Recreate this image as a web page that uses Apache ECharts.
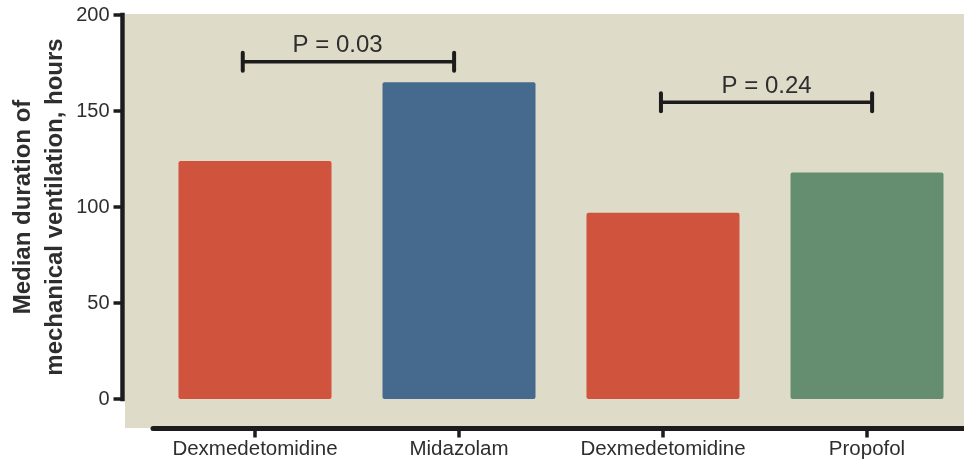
<!DOCTYPE html>
<html>
<head>
<meta charset="utf-8">
<script src="https://cdn.jsdelivr.net/npm/echarts@6/dist/echarts.min.js"></script>
<style>
html,body{margin:0;padding:0;background:#ffffff;}
#chart{width:964px;height:461px;}
</style>
</head>
<body>
<div id="chart"></div>
<script>
// ---- data ----
const categories = ['Dexmedetomidine', 'Midazolam', 'Dexmedetomidine', 'Propofol'];
const medianHours = [124, 165, 97, 118];
const yAxisTitle = 'Median duration of\nmechanical ventilation, hours';
const yMin = 0, yMax = 200, yStep = 50;
// significance brackets (x in category units, y in hours)
const bracketStart = [-0.06, 1.99];
const bracketEnd = [0.976, 3.025];
const bracketLevel = [175.6, 154.5];
const pLabels = ['P = 0.03', 'P = 0.24'];
const pLabelX = [0.405, 2.508];

// ---- styles ----
const barColors = ['#d0533d', '#456a8d', '#d0533d', '#658d70'];
const FONT = '"Liberation Sans", Arial, Helvetica, sans-serif';
const AXIS = '#1c1c1c';
const TEXT = '#2e2e2e';

const chart = echarts.init(document.getElementById('chart'), null, {renderer: 'canvas'});

const bracketData = bracketStart.map((s, i) => [s, bracketEnd[i], bracketLevel[i], pLabelX[i], i]);

const option = {
  animation: false,
  backgroundColor: '#ffffff',
  grid: [
    {left: 125, right: 0, top: 14, bottom: 33, show: true, backgroundColor: '#dedbc9', borderWidth: 0, containLabel: false, outerBoundsMode: 'none'},
    {left: 153, width: 816, top: 15, bottom: 62, containLabel: false, outerBoundsMode: 'none'}
  ],
  xAxis: [
    {gridIndex: 0, type: 'value', show: false},
    {
      gridIndex: 1, type: 'category', data: categories, offset: 29.5,
      axisLine: {show: true, onZero: false, lineStyle: {color: AXIS, width: 5}},
      axisTick: {show: true, alignWithLabel: true, length: 9, lineStyle: {color: AXIS, width: 3.5}},
      axisLabel: {fontSize: 20.5, color: TEXT, margin: 10, fontFamily: FONT, interval: 0},
      splitLine: {show: false}
    },
    {gridIndex: 1, type: 'value', min: -0.5, max: 3.5, show: false, axisLine: {onZero: false}}
  ],
  yAxis: [
    {gridIndex: 0, type: 'value', show: false},
    {
      gridIndex: 1, type: 'value', min: yMin, max: yMax, interval: yStep, offset: 30.5,
      axisLine: {show: true, onZero: false, lineStyle: {color: AXIS, width: 4.5, cap: 'square'}},
      axisTick: {show: true, length: 9, lineStyle: {color: AXIS, width: 3.5}},
      axisLabel: {fontSize: 20, color: TEXT, margin: 13, fontFamily: FONT},
      splitLine: {show: false},
      name: yAxisTitle, nameLocation: 'middle', nameGap: 51, nameMoveOverlap: false,
      nameTextStyle: {fontSize: 24, fontWeight: 'bold', color: TEXT, lineHeight: 32, fontFamily: FONT}
    }
  ],
  series: [
    {
      type: 'bar', xAxisIndex: 1, yAxisIndex: 1,
      barWidth: 153,
      data: medianHours.map((v, i) => ({value: v, itemStyle: {color: barColors[i]}})),
      itemStyle: {borderRadius: 2}
    },
    {
      type: 'custom', xAxisIndex: 2, yAxisIndex: 1,
      data: bracketData,
      encode: {x: [0, 1, 3], y: 2},
      renderItem: function (params, api) {
        const p1 = api.coord([api.value(0), api.value(2)]);
        const p2 = api.coord([api.value(1), api.value(2)]);
        const pl = api.coord([api.value(3), api.value(2)]);
        const idx = api.value(4);
        const ls = {stroke: AXIS, lineWidth: 3.5, lineCap: 'round'};
        return {
          type: 'group',
          children: [
            {type: 'line', shape: {x1: p1[0], y1: p1[1], x2: p2[0], y2: p2[1]}, style: ls},
            {type: 'line', shape: {x1: p1[0], y1: p1[1] - 9, x2: p1[0], y2: p1[1] + 9}, style: {stroke: AXIS, lineWidth: 4, lineCap: 'round'}},
            {type: 'line', shape: {x1: p2[0], y1: p2[1] - 9, x2: p2[0], y2: p2[1] + 9}, style: {stroke: AXIS, lineWidth: 4, lineCap: 'round'}},
            {type: 'text', style: {text: pLabels[idx], x: pl[0], y: pl[1] - 16, textAlign: 'center', textVerticalAlign: 'middle', fontSize: 24, fontFamily: FONT, fill: TEXT}}
          ]
        };
      }
    }
  ]
};
chart.setOption(option);
</script>
</body>
</html>
